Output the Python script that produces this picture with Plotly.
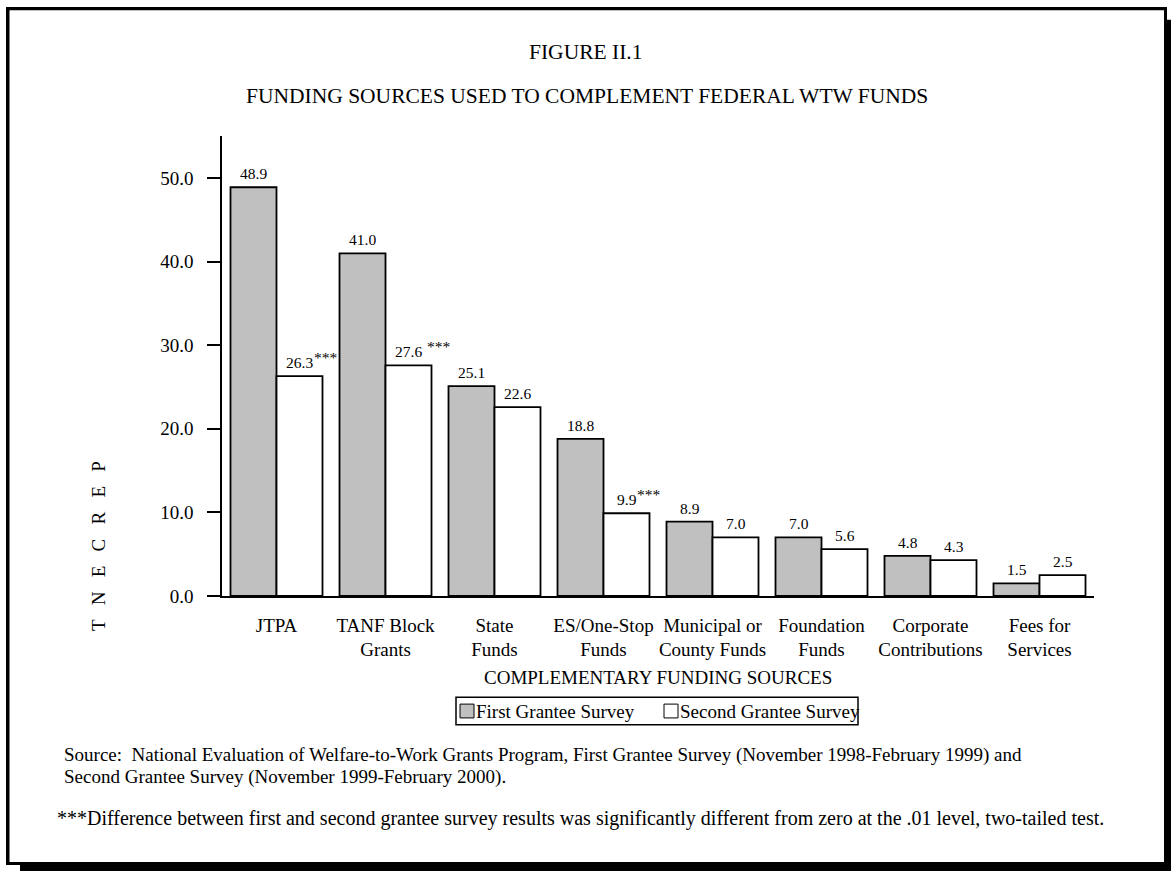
import plotly.graph_objects as go

# ---------------- data ----------------
categories = ["JTPA", "TANF Block<br>Grants", "State<br>Funds", "ES/One-Stop<br>Funds",
              "Municipal or<br>County Funds", "Foundation<br>Funds",
              "Corporate<br>Contributions", "Fees for<br>Services"]
first_survey = [48.9, 41.0, 25.1, 18.8, 8.9, 7.0, 4.8, 1.5]
second_survey = [26.3, 27.6, 22.6, 9.9, 7.0, 5.6, 4.3, 2.5]
second_flags = ["***", " ***", "", "***", "", "", "", ""]
series_names = ["First Grantee Survey", "Second Grantee Survey"]
y_tickvals = [0, 10, 20, 30, 40, 50]
y_ticktext = ["0.0", "10.0", "20.0", "30.0", "40.0", "50.0"]

# ---------------- layout helpers ----------------
W, H = 1171, 882
FONT = "Liberation Serif"
GRAY = "#C0C0C0"
VAL_SIZE = 15.5


def px(x):
    return x / W


def py(y):
    return 1 - y / H


def note(x, y, text, size, xanchor="left", **kw):
    return dict(x=px(x), y=py(y), xref="paper", yref="paper", text=text,
                showarrow=False, xanchor=xanchor, yanchor="middle",
                font=dict(family=FONT, size=size, color="black"), **kw)


BARGAP = 0.156
OFF = (1 - BARGAP) / 4  # centre offset of each bar within its group
idx = list(range(len(categories)))

fig = go.Figure()
fig.add_bar(x=idx, y=first_survey, name=series_names[0],
            marker=dict(color=GRAY, line=dict(color="black", width=1.8)))
fig.add_bar(x=idx, y=second_survey, name=series_names[1],
            marker=dict(color="white", line=dict(color="black", width=1.8)))

annotations = []
# value labels
for i, (a, b, flag) in enumerate(zip(first_survey, second_survey, second_flags)):
    for xv, v in ((i - OFF, a), (i + OFF, b)):
        annotations.append(dict(x=xv, y=v, xref="x", yref="y", text=f"{v:.1f}",
                                showarrow=False, xanchor="center", yanchor="bottom", yshift=3,
                                font=dict(family=FONT, size=VAL_SIZE, color="black")))
    if flag:
        label = f"{b:.1f}"
        half = (0.5 * sum(c.isdigit() for c in label) + 0.25) * VAL_SIZE / 2
        gap = 4 if flag.startswith(" ") else 0
        annotations.append(dict(x=i + OFF, y=b, xref="x", yref="y", text=flag.strip(),
                                showarrow=False, xanchor="left", yanchor="bottom",
                                xshift=half - 1 + gap, yshift=8,
                                font=dict(family=FONT, size=VAL_SIZE, color="black")))

# titles
annotations.append(note(585, 53, "FIGURE II.1", 21.5, xanchor="center"))
annotations.append(note(587, 97, "FUNDING SOURCES USED TO COMPLEMENT FEDERAL WTW FUNDS", 21.5,
                        xanchor="center"))
# axis titles
annotations.append(note(658, 686, "COMPLEMENTARY FUNDING SOURCES", 19, xanchor="center"))
sp = "\u00a0\u00a0\u00a0"
annotations.append(note(98, 553, sp.join(list("TNECREP")), 19, xanchor="center", textangle=-90))
# notes
annotations.append(note(62, 765, "Source:  National Evaluation of Welfare-to-Work Grants Program, "
                        "First Grantee Survey (November 1998-February 1999) and", 19))
annotations.append(note(62, 787, "Second Grantee Survey (November 1999-February 2000).", 19))
annotations.append(note(55, 829, "***Difference between first and second grantee survey results was "
                        "significantly different from zero at the .01 level, two-tailed test.", 20))

# manual legend
LX0, LX1, LY0, LY1 = 456, 858, 706, 734
legend_items = [(460, GRAY, series_names[0]), (664, "white", series_names[1])]
shapes = [dict(type="rect", xref="paper", yref="paper", x0=px(LX0), x1=px(LX1),
               y0=py(LY0), y1=py(LY1), line=dict(color="black", width=1.5), fillcolor="white")]
for sx, col, name in legend_items:
    shapes.append(dict(type="rect", xref="paper", yref="paper", x0=px(sx), x1=px(sx + 14),
                       y0=py(713), y1=py(727), line=dict(color="black", width=1), fillcolor=col))
    annotations.append(note(sx + 14, 720, name, 19))

# page frame with shadow
frame = [(6, 7, 1167, 10.5), (6, 7, 9.5, 876), (1164, 7, 1167, 882), (1167, 20, 1171, 882),
         (6, 873, 1171, 876), (20, 876, 1171, 882)]
for x0, y0, x1, y1 in frame:
    shapes.append(dict(type="rect", xref="paper", yref="paper", x0=px(x0), x1=px(x1),
                       y0=py(y0), y1=py(y1), line=dict(width=0), fillcolor="black"))

fig.update_layout(
    width=W, height=H, autosize=False,
    margin=dict(l=0, r=0, t=0, b=0),
    paper_bgcolor="white", plot_bgcolor="white",
    barmode="group", bargap=BARGAP, bargroupgap=0,
    showlegend=False,
    font=dict(family=FONT, color="black"),
    xaxis=dict(domain=[px(222), px(1094)], range=[-0.5, len(categories) - 0.5],
               tickvals=idx, ticktext=categories, showline=True, linecolor="black",
               linewidth=1.5, ticks="", showgrid=False, zeroline=False,
               ticklabelstandoff=11,
               tickfont=dict(family=FONT, size=19, color="black")),
    yaxis=dict(domain=[py(603.5), py(138)], range=[0, 55], tickvals=y_tickvals,
               ticktext=y_ticktext, showline=True, linecolor="black", linewidth=1.5,
               ticks="outside", ticklen=13, tickwidth=1.5, tickcolor="black",
               showgrid=False, zeroline=False, ticklabelstandoff=10,
               tickfont=dict(family=FONT, size=19, color="black")),
    shapes=shapes,
    annotations=annotations,
)

fig.write_html("out.html")
